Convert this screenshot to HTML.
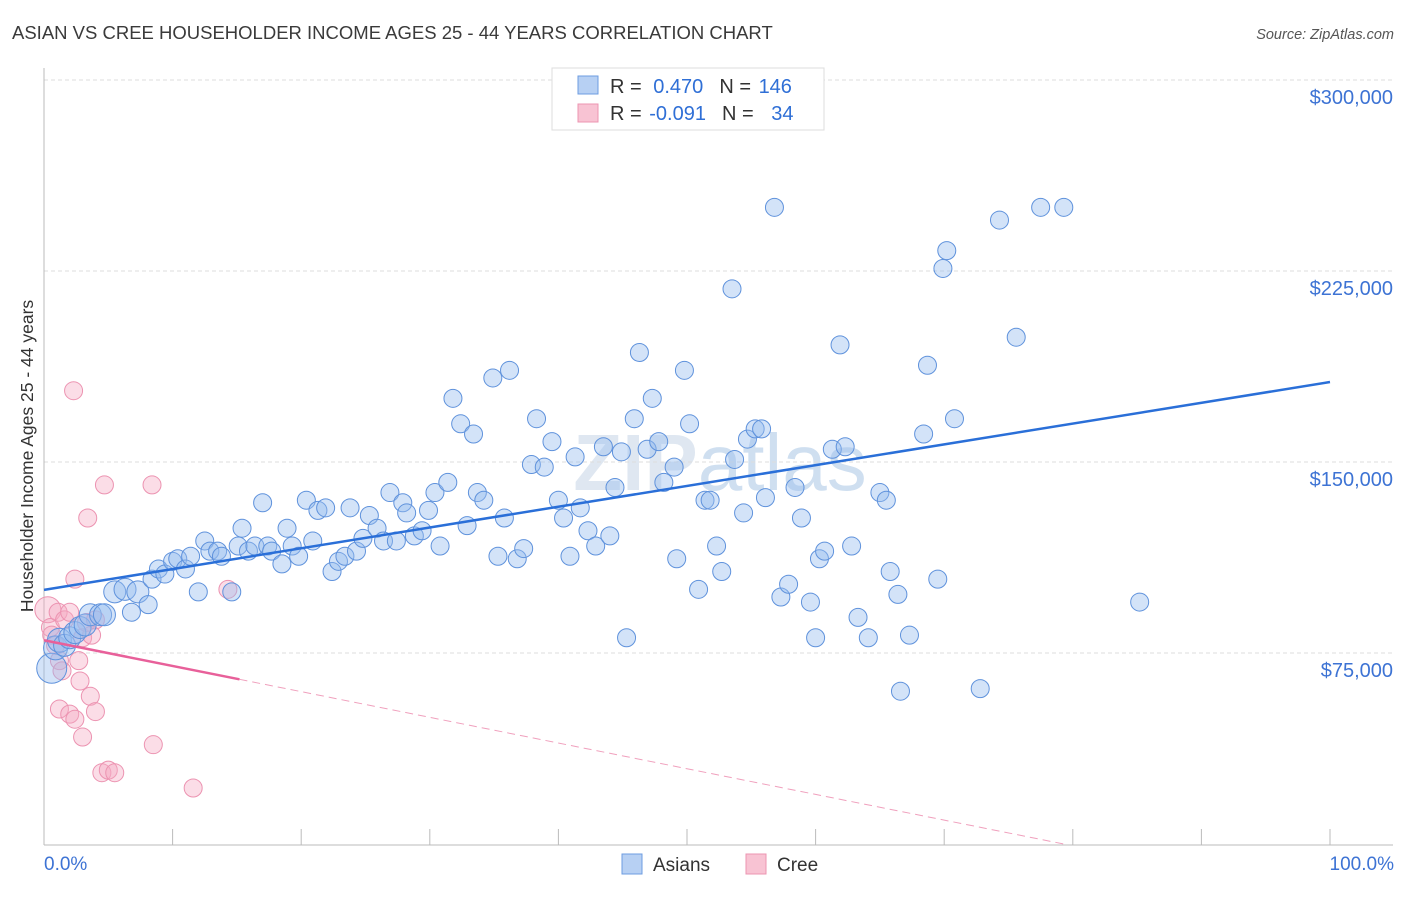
<!DOCTYPE html>
<html><head><meta charset="utf-8"><style>
body{margin:0;background:#fff;font-family:"Liberation Sans",sans-serif;}
svg text{font-family:"Liberation Sans",sans-serif;}
</style></head><body>
<svg id="chart" width="1406" height="892" xmlns="http://www.w3.org/2000/svg">
<text x="12" y="39" font-size="18.5" fill="#3a3a3a">ASIAN VS CREE HOUSEHOLDER INCOME AGES 25 - 44 YEARS CORRELATION CHART</text>
<text x="1394" y="39" font-size="14.5" fill="#555" text-anchor="end" font-style="italic">Source: ZipAtlas.com</text>
<text x="720" y="490" font-size="80" fill="#dfe7f1" text-anchor="middle" font-weight="bold">ZIP<tspan font-weight="normal" fill="#cfdff0">atlas</tspan></text>
<g id="grid"></g>
<g id="axes"></g>
<g id="pink"></g>
<g id="blue"></g>
<g id="trends"></g>
<text transform="translate(33,456) rotate(-90)" font-size="17.5" fill="#333" text-anchor="middle">Householder Income Ages 25 - 44 years</text>
<text x="44" y="870" font-size="19" fill="#3d73d4">0.0%</text>
<text x="1394" y="870" font-size="19" fill="#3d73d4" text-anchor="end">100.0%</text>
<g>
<rect x="552" y="68" width="272" height="62" fill="#fff" stroke="#ddd"/>
<rect x="578" y="76" width="20" height="18" fill="#b7d0f3" stroke="#6e9ce0"/>
<rect x="578" y="104" width="20" height="18" fill="#f8c3d3" stroke="#ec94b1"/>
<text x="610" y="93" font-size="20" fill="#333">R = <tspan fill="#2f6fd6" dx="6">0.470</tspan><tspan dx="16">N = </tspan><tspan fill="#2f6fd6" dx="2">146</tspan></text>
<text x="610" y="120" font-size="20" fill="#333">R = <tspan fill="#2f6fd6" dx="2">-0.091</tspan><tspan dx="16">N = </tspan><tspan fill="#2f6fd6" dx="12">34</tspan></text>
</g>
<g>
<rect x="622" y="854" width="20" height="20" fill="#b7d0f3" stroke="#6e9ce0"/>
<text x="653" y="871" font-size="19" fill="#333">Asians</text>
<rect x="746" y="854" width="20" height="20" fill="#f8c3d3" stroke="#ec94b1"/>
<text x="777" y="871" font-size="19" fill="#333">Cree</text>
</g>
</svg>
<script>
const yTicks=[75,150,225,300];
const yTickLabels=["$75,000","$150,000","$225,000","$300,000"];
const asianX=[0.6,0.9,1.2,1.6,2.0,2.4,2.8,3.2,3.6,4.4,4.7,5.5,6.3,7.3,8.1,6.8,8.4,8.9,9.4,10.0,10.4,11,11.4,12,12.5,12.9,13.5,13.8,14.6,15.1,15.4,15.9,16.4,17,17.4,17.7,18.5,18.9,19.3,19.8,20.4,20.9,21.3,21.9,22.4,22.9,23.4,23.8,24.3,24.8,25.3,25.9,26.4,26.9,27.4,27.9,28.2,28.8,29.4,29.9,30.4,30.8,31.4,31.8,32.4,32.9,33.4,33.7,34.2,34.9,35.3,35.8,36.2,36.8,37.3,37.9,38.3,38.9,39.5,40,40.4,40.9,41.3,41.7,42.3,42.9,43.5,44,44.4,44.9,45.3,45.9,46.3,46.9,47.3,47.8,48.2,49,49.2,49.8,50.2,50.9,51.4,51.8,52.3,52.7,53.5,53.7,54.4,54.7,55.3,55.8,56.1,56.8,57.3,57.9,58.4,58.9,59.6,60,60.3,60.7,61.3,61.9,62.3,62.8,63.3,64.1,65,65.5,65.8,66.4,66.6,67.3,68.4,68.7,69.5,69.9,70.2,70.8,72.8,74.3,75.6,77.5,79.3,85.2];
const asianY=[69,77,80,78,81,83,85,86,90,90,90,99,100,99,94,91,104,108,106,111,112,108,113,99,119,115,115,113,99,117,124,115,117,134,117,115,110,124,117,113,135,119,131,132,107,111,113,132,115,120,129,124,119,138,119,134,130,121,123,131,138,117,142,175,165,125,161,138,135,183,113,128,186,112,116,149,167,148,158,135,128,113,152,132,123,117,156,121,140,154,81,167,193,155,175,158,142,148,112,186,165,100,135,135,117,107,218,151,130,159,163,163,136,250,97,102,140,128,95,81,112,115,155,196,156,117,89,81,138,135,107,98,60,82,161,188,104,226,233,167,61,245,199,250,250,95];
const creeX=[0.3,0.5,0.6,0.9,1.1,1.2,1.4,1.6,2.0,2.3,2.4,2.7,2.8,3.0,3.3,3.4,3.6,3.7,4.0,1.2,2.0,2.4,3.0,4.5,5.0,5.5,4.7,8.4,8.5,11.6,14.3,4.0];
const creeY=[92,85,82,78,91,72,68,88,91,178,104,72,64,81,87,128,58,82,52,53,51,49,42,28,29,28,141,141,39,22,100,88];
const asianTrend=[99.8,181.4];
const creeTrend=[80,0];
const creeSolidEnd=15.2, creeZeroAt=79.3;

const NS="http://www.w3.org/2000/svg";
const X=p=>44+p*12.86, Y=v=>844-v*191/75;
function mk(tag,attrs,parent){const e=document.createElementNS(NS,tag);for(const k in attrs)e.setAttribute(k,attrs[k]);parent.appendChild(e);return e;}
const grid=document.getElementById('grid'),axes=document.getElementById('axes');
yTicks.forEach((t,i)=>{
 const l=mk('line',{x1:44,x2:1393,y1:Y(t),y2:Y(t),stroke:'#ddd','stroke-dasharray':'4,3'},grid);
 
 
 const tx=mk('text',{x:1393,y:Y(t)+24,'font-size':20,fill:'#3d73d4','text-anchor':'end'},grid);
 tx.textContent=yTickLabels[i];
 
 
});
mk('line',{x1:44,x2:44,y1:68,y2:845,stroke:'#bbb'},axes);
mk('line',{x1:44,x2:1393,y1:845,y2:845,stroke:'#bbb'},axes);
for(let i=1;i<=10;i++){const t=mk('line',{x1:X(i*10),x2:X(i*10),y1:829,y2:845,stroke:'#bbb'},axes);
 
 }
const pg=document.getElementById('pink');
creeX.forEach((x,i)=>{const c=mk('circle',{cx:X(x),cy:Y(creeY[i]),r:i==0?13:9,fill:'rgba(246,170,196,0.4)',stroke:'#ec93b1','stroke-width':1},pg);
 
 });
const bg=document.getElementById('blue');
asianX.forEach((x,i)=>{const c=mk('circle',{cx:X(x),cy:Y(asianY[i]),r:i<3?(i==0?15:12):(i<14?11:9),fill:'rgba(150,188,238,0.42)',stroke:'#5f92dc','stroke-width':1},bg);
 
 });
const tg=document.getElementById('trends');
const bt=mk('line',{x1:X(0),y1:Y(asianTrend[0]),x2:X(100),y2:Y(asianTrend[1]),stroke:'#2a6fd8','stroke-width':2.5},tg);


const cv=p=>creeTrend[0]+(creeTrend[1]-creeTrend[0])*p/creeZeroAt;
const ct=mk('line',{x1:X(0),y1:Y(cv(0)),x2:X(creeSolidEnd),y2:Y(cv(creeSolidEnd)),stroke:'#e8609a','stroke-width':2.5},tg);


const cd=mk('line',{x1:X(creeSolidEnd),y1:Y(cv(creeSolidEnd)),x2:X(creeZeroAt),y2:Y(0),stroke:'#f0a0bd','stroke-width':1,'stroke-dasharray':'8,5'},tg);


</script>
</body></html>
